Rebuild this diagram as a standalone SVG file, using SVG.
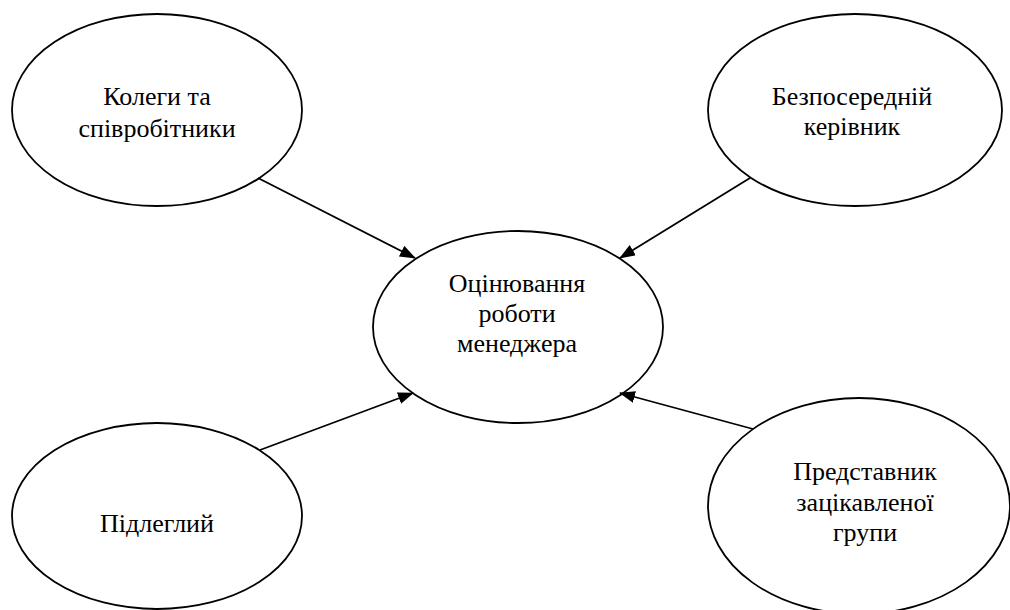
<svg xmlns="http://www.w3.org/2000/svg" width="1010" height="610" viewBox="0 0 1010 610">
<style>
.node ellipse{fill:#fff;stroke:#000;stroke-width:1.8}
text{font-family:'Liberation Serif','DejaVu Serif','Times New Roman',serif;font-size:26px;fill:#000;text-anchor:middle}
.edge{stroke:#000;stroke-width:1.8;fill:none;marker-end:url(#arr)}
</style>
<defs>
<marker id="arr" markerUnits="userSpaceOnUse" markerWidth="16" markerHeight="12" refX="15" refY="6" orient="auto">
<path d="M0,0 L16,6 L0,12 Z" fill="#000"/>
</marker>
</defs>
<rect width="1010" height="610" fill="#fff"/>
<g id="n-colleagues" class="node">
<ellipse cx="157" cy="110" rx="145" ry="96"/>
<text x="157" y="105" font-family="Liberation Serif, serif">Колеги та</text>
<text x="157" y="137" font-family="Liberation Serif, serif">співробітники</text>
</g>
<g id="n-manager" class="node">
<ellipse cx="855" cy="110" rx="147" ry="96"/>
<text x="852" y="105" font-family="Liberation Serif, serif">Безпосередній</text>
<text x="852" y="135" font-family="Liberation Serif, serif">керівник</text>
</g>
<g id="n-center" class="node">
<ellipse cx="518" cy="327" rx="145" ry="96"/>
<text x="517" y="292" font-family="Liberation Serif, serif">Оцінювання</text>
<text x="517" y="322" font-family="Liberation Serif, serif">роботи</text>
<text x="517" y="352" font-family="Liberation Serif, serif">менеджера</text>
</g>
<g id="n-subordinate" class="node">
<ellipse cx="157" cy="516" rx="145" ry="93"/>
<text x="157" y="532" font-family="Liberation Serif, serif">Підлеглий</text>
</g>
<g id="n-stakeholder" class="node">
<ellipse cx="859" cy="506" rx="151" ry="108"/>
<text x="865" y="480" font-family="Liberation Serif, serif">Представник</text>
<text x="865" y="511" font-family="Liberation Serif, serif">зацікавленої</text>
<text x="865" y="541" font-family="Liberation Serif, serif">групи</text>
</g>
<g id="connectors">
<line class="edge" x1="258" y1="178" x2="415" y2="258"/>
<line class="edge" x1="750" y1="178" x2="620" y2="258"/>
<line class="edge" x1="260" y1="450" x2="413" y2="393"/>
<line class="edge" x1="753" y1="429" x2="620" y2="393"/>
</g>
</svg>
